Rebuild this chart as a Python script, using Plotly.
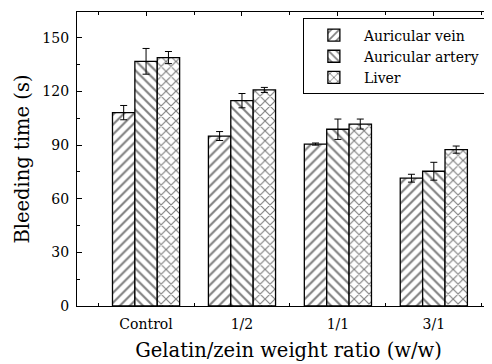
import plotly.graph_objects as go

categories = ["Control", "1/2", "1/1", "3/1"]
cat_pos = [1, 2, 3, 4]
series_names = ["Auricular vein", "Auricular artery", "Liver"]
vein = [108.2, 95.1, 90.6, 71.5]
vein_err = [4.0, 2.5, 0.6, 2.2]
artery = [136.9, 114.9, 98.9, 75.4]
artery_err = [7.2, 4.0, 5.7, 5.0]
liver = [139.0, 120.9, 101.8, 87.5]
liver_err = [3.4, 1.4, 2.8, 2.0]
y_ticks = [0, 30, 60, 90, 120, 150]

series_vals = [vein, artery, liver]
series_errs = [vein_err, artery_err, liver_err]
shapes = ["/", "\\", "x"]

FONT = "DejaVu Serif"
fig = go.Figure()
for name, vals, errs, shp in zip(series_names, series_vals, series_errs, shapes):
    fig.add_trace(go.Bar(
        x=cat_pos, y=vals, name=name,
        marker=dict(color="white", line=dict(color="black", width=1.3),
                    pattern=dict(shape=shp, fgcolor="black", bgcolor="white",
                                 size=7, solidity=0.3, fillmode="overlay")),
        error_y=dict(type="data", array=errs, visible=True, color="black",
                     thickness=1, width=3.5),
    ))

fig.update_layout(
    width=492, height=364,
    margin=dict(l=69, r=0, t=4, b=66),
    paper_bgcolor="white", plot_bgcolor="white",
    barmode="group", bargap=0.3, bargroupgap=0,
    font=dict(family=FONT, size=14, color="black"),
    showlegend=True,
    legend=dict(x=0.534, y=0.978, xanchor="left", yanchor="top",
                bordercolor="black", borderwidth=1, bgcolor="white",
                font=dict(family=FONT, size=14), tracegroupgap=0, itemwidth=50),
)
fig.update_xaxes(
    range=[0.28, 4.69], tickmode="array", tickvals=cat_pos, ticktext=categories,
    ticks="inside", ticklen=4, tickcolor="black", showline=True, linecolor="black",
    linewidth=1.2, mirror="ticks", showgrid=False, zeroline=False, layer="below traces",
    minor=dict(ticks="inside", ticklen=3, tick0=0.5, dtick=1, tickcolor="black", showgrid=False),
    tickfont=dict(family=FONT, size=14), ticklabelstandoff=5,
    title=dict(text="Gelatin/zein weight ratio (w/w)", font=dict(family=FONT, size=19.5), standoff=12),
)
fig.update_yaxes(
    range=[0, 164.5], tickmode="array", tickvals=y_ticks,
    ticks="inside", ticklen=5, tickcolor="black", showline=True, linecolor="black",
    linewidth=1.2, mirror=False, showgrid=False, zeroline=False,
    minor=dict(ticks="inside", ticklen=3, tick0=15, dtick=30, tickcolor="black", showgrid=False),
    tickfont=dict(family=FONT, size=14), ticklabelstandoff=4,
    title=dict(text="Bleeding time (s)", font=dict(family=FONT, size=19.5), standoff=7),
)
fig.write_html("out.html")
